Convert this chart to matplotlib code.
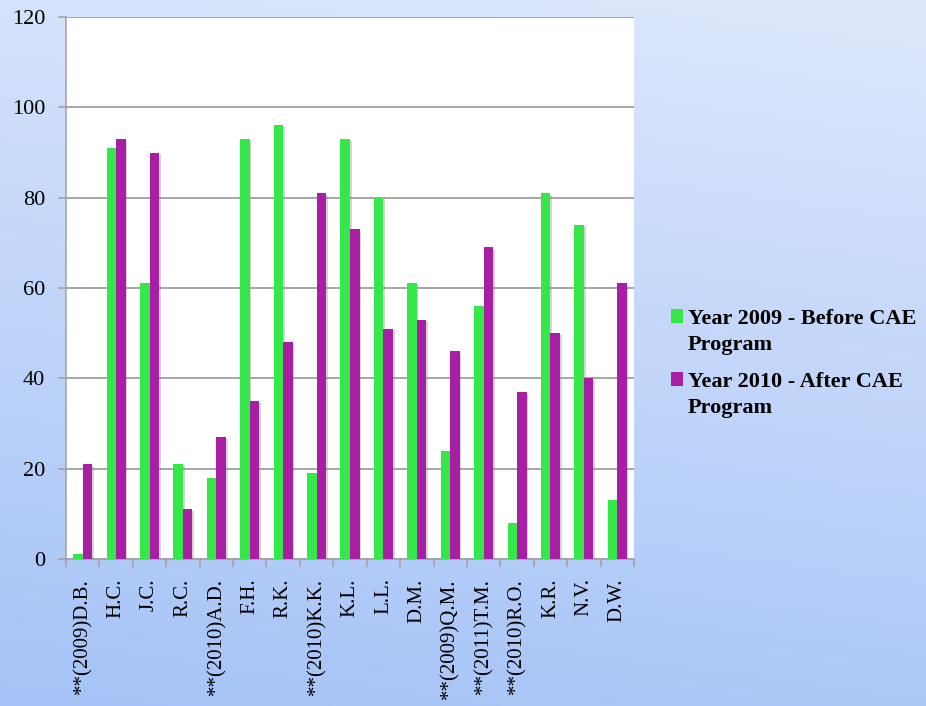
import matplotlib
matplotlib.use("Agg")
import matplotlib.pyplot as plt
import matplotlib.patheffects as pe
from matplotlib.patches import Rectangle
from matplotlib.container import BarContainer
from matplotlib.legend_handler import HandlerPatch
import numpy as np

# data
names = ["**(2009)D.B.", "H.C.", "J.C.", "R.C.", "**(2010)A.D.", "F.H.", "R.K.",
         "**(2010)K.K.", "K.L.", "L.L.", "D.M.", "**(2009)Q.M.", "**(2011)T.M.",
         "**(2010)R.O.", "K.R.", "N.V.", "D.W."]
before = [1, 91, 61, 21, 18, 93, 96, 19, 93, 80, 61, 24, 56, 8, 81, 74, 13]
after = [21, 93, 90, 11, 27, 35, 48, 81, 73, 51, 53, 46, 69, 37, 50, 40, 61]
yticks = [0, 20, 40, 60, 80, 100, 120]

green = "#35e84a"
purple = "#a91fa3"

fig = plt.figure(figsize=(9.26, 7.06), dpi=100)

# blue gradient background
bg = fig.add_axes([0, 0, 1, 1], zorder=-10)
yy, xx = np.mgrid[0:1:200j, 0:1:200j]
top = np.array([222, 232, 252]) / 255
bot = np.array([165, 195, 247]) / 255
t = np.clip(yy * 0.85 + (1 - xx) * 0.15, 0, 1)[..., None]
img = top * (1 - t) + bot * t
bg.imshow(img, aspect="auto", extent=[0, 1, 0, 1], origin="upper")
bg.axis("off")

ax = fig.add_axes([66 / 926, 147 / 706, 568 / 926, 542 / 706])
ax.set_facecolor("white")

x = np.arange(len(names))
w = 0.285
shadow = [pe.SimplePatchShadow(offset=(1.2, -1.2), shadow_rgbFace="#888888", alpha=0.35), pe.Normal()]
b1 = ax.bar(x - w / 2, before, w, color=green, label="Year 2009 - Before CAE\nProgram", zorder=3)
b2 = ax.bar(x + w / 2, after, w, color=purple, label="Year 2010 - After CAE\nProgram", zorder=3)
for p in list(b1) + list(b2):
    p.set_path_effects(shadow)

ax.set_xlim(-0.5, len(names) - 0.5)
ax.set_ylim(0, 120)
ax.set_yticks(yticks)
ax.yaxis.grid(True, color="#8e8e8e", linewidth=1.1, zorder=0)
ax.set_axisbelow(True)

for s in ["top", "right"]:
    ax.spines[s].set_visible(False)
for s in ["left", "bottom"]:
    ax.spines[s].set_color("#a0a0a0")
    ax.spines[s].set_linewidth(1.1)

ax.set_xticks(x)
ax.set_xticklabels(names, rotation=90, fontsize=15, family="Liberation Serif")
ax.set_xticks(np.arange(-0.5, len(names)), minor=True)
ax.tick_params(axis="x", which="major", length=0, pad=14)
ax.tick_params(axis="x", which="minor", length=6, color="#a0a0a0", width=1.1)
ax.tick_params(axis="y", length=6, color="#a0a0a0", width=1.1, pad=9)
for lab in ax.get_yticklabels():
    lab.set_fontsize(16)
    lab.set_family("Liberation Serif")


# legend square sits next to the first line of the two-line label
def top_square(legend, orig_handle, xdescent, ydescent, width, height, fontsize):
    return Rectangle((-xdescent, -ydescent + 0.7 * fontsize), width, height)


def first_bar(legend_handle, orig_handle):
    legend_handle.update_from(orig_handle[0])
    legend_handle.set_path_effects([])


leg = fig.legend(handles=[b1, b2], loc="center left", bbox_to_anchor=(0.703, 0.485),
                 frameon=False, handlelength=0.55, handleheight=0.55, handletextpad=0.22,
                 labelspacing=0.8,
                 handler_map={BarContainer: HandlerPatch(patch_func=top_square,
                                                         update_func=first_bar)},
                 prop={"family": "Liberation Serif", "weight": "bold", "size": 16})
for txt in leg.get_texts():
    txt.set_linespacing(1.35)

fig.savefig("out.png", dpi=100)
